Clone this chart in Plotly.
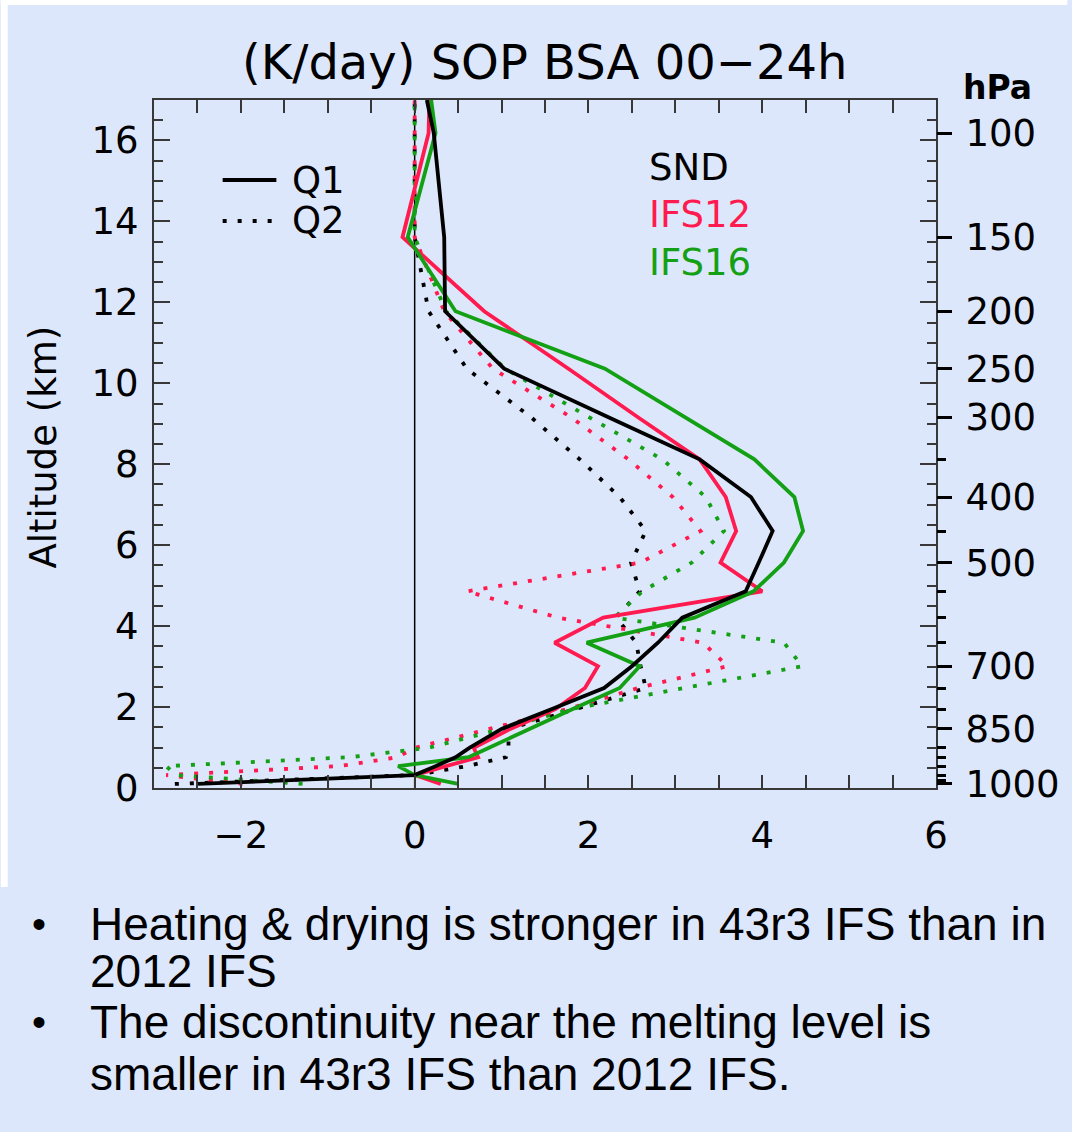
import plotly.graph_objects as go

# Model levels (altitude in km) shared by every profile
level_alt_km = [0.10, 0.32, 0.54, 0.76, 0.99, 1.46, 1.95, 2.47, 3.01, 3.59, 4.21,
                4.86, 5.57, 6.35, 7.19, 8.12, 9.16, 10.36, 11.78, 13.61, 16.18, 17.00]

# Apparent heat source Q1 (K/day)
snd_q1 = [-2.50, 0.00, 0.24, 0.47, 0.63, 1.00, 1.58, 2.18, 2.50, 2.80, 3.08,
          3.81, 3.96, 4.12, 3.87, 3.28, 2.23, 1.03, 0.35, 0.34, 0.22, 0.14]
ifs12_q1 = [0.30, 0.00, 0.36, 0.73, 0.68, 1.10, 1.62, 1.96, 2.11, 1.61, 2.17,
            4.00, 3.52, 3.70, 3.58, 3.28, 2.57, 1.77, 0.80, -0.14, 0.16, 0.17]
ifs16_q1 = [0.50, 0.00, -0.19, 0.62, 0.85, 1.32, 1.82, 2.36, 2.59, 1.98, 3.22,
            3.90, 4.25, 4.47, 4.37, 3.91, 3.11, 2.19, 0.47, -0.08, 0.24, 0.19]

# Apparent moisture sink Q2 (K/day)
snd_q2 = [-2.76, 0.00, 0.60, 1.05, 1.08, 1.08, 1.85, 2.66, 2.60, 2.55, 2.32,
          2.59, 2.49, 2.66, 2.36, 1.90, 1.34, 0.60, 0.16, 0.00, 0.00, 0.00]
ifs12_q2 = [-1.98, -2.86, -0.87, -0.20, 0.00, 0.88, 1.76, 2.57, 3.60, 3.32, 1.65,
            0.60, 2.60, 3.29, 2.97, 2.46, 1.80, 0.90, 0.34, 0.00, 0.00, 0.00]
ifs16_q2 = [-1.29, -2.75, -2.86, -0.75, 0.15, 1.00, 1.80, 3.08, 4.46, 4.25, 2.30,
            2.62, 3.19, 3.56, 3.35, 2.85, 2.00, 1.04, 0.36, 0.00, 0.00, 0.00]

# Pressure axis (hPa) on the right
pressure_labels = ["100", "150", "200", "250", "300", "400", "500", "700", "850", "1000"]
pressure_label_alt_km = [16.18, 13.61, 11.78, 10.36, 9.16, 7.19, 5.57, 3.01, 1.46, 0.11]
pressure_minor_alt_km = [8.12, 6.35, 4.86, 4.21, 3.59, 2.47, 1.95, 0.99, 0.76, 0.54, 0.32, 0.19]

x_ticks = [-2, 0, 2, 4, 6]
y_ticks = [0, 2, 4, 6, 8, 10, 12, 14, 16]

W, H = 1072, 1132
L, R, T, B = 154, 940, 100, 788


def px(xp):
    return (xp - L) / (R - L)


def py(yp):
    return (B - yp) / (B - T)


BG = "#dde7fb"
RED = "#ff1a4f"
GREEN = "#14a014"
AX = "#383838"
FONT = "DejaVu Sans"
DOT = "4px,11px"
LW = 3.8

fig = go.Figure()

series = [
    (snd_q2, "black", DOT),
    (ifs12_q2, RED, DOT),
    (ifs16_q2, GREEN, DOT),
    (ifs12_q1, RED, "solid"),
    (ifs16_q1, GREEN, "solid"),
    (snd_q1, "black", "solid"),
]
for vals, color, dash in series:
    fig.add_trace(go.Scatter(
        x=vals, y=level_alt_km, mode="lines",
        line=dict(color=color, width=LW, dash=dash),
        showlegend=False, hoverinfo="skip",
    ))

# carrier for the pressure axis
fig.add_trace(go.Scatter(x=[None], y=[None], yaxis="y2", showlegend=False,
                         hoverinfo="skip"))

# zero line
fig.add_shape(type="line", xref="x", yref="y", x0=0, x1=0, y0=0, y1=17,
              line=dict(color="black", width=1.5), layer="below")

# Q1 / Q2 key
fig.add_shape(type="line", xref="paper", yref="paper",
              x0=px(223), x1=px(277), y0=py(180), y1=py(180),
              line=dict(color="black", width=LW))
fig.add_shape(type="line", xref="paper", yref="paper",
              x0=px(223), x1=px(277), y0=py(221), y1=py(221),
              line=dict(color="black", width=LW, dash=DOT))

# white frame strips around the chart image
fig.add_shape(type="rect", xref="paper", yref="paper",
              x0=px(0), x1=px(7), y0=py(887), y1=py(0),
              line=dict(width=0), fillcolor="white", layer="below")
fig.add_shape(type="rect", xref="paper", yref="paper",
              x0=px(0), x1=px(W), y0=py(5), y1=py(0),
              line=dict(width=0), fillcolor="white", layer="below")


def note(text, x, y, size, color="black", family=FONT, xanchor="left",
         yanchor="middle", angle=0, weight="normal"):
    fig.add_annotation(text=text, xref="paper", yref="paper", x=px(x), y=py(y),
                       xanchor=xanchor, yanchor=yanchor, showarrow=False,
                       textangle=angle,
                       font=dict(family=family, size=size, color=color, weight=weight))


note("(K/day) SOP BSA 00\u221224h", 546, 62, 48, xanchor="center")
note("Altitude (km)", 42, 447, 37, xanchor="center", angle=-90)
note("hPa", 1002, 88, 33, xanchor="center", weight="bold")
note("Q1", 291, 180, 37)
note("Q2", 291, 220, 37)
note("SND", 650, 168, 37)
note("IFS12", 650, 215, 37, color=RED)
note("IFS16", 650, 262, 37, color=GREEN)

TXT = "Liberation Sans"
note("\u2022", 38, 924, 40, family=TXT, xanchor="center")
note("Heating &amp; drying is stronger in 43r3 IFS than in", 88, 924, 46, family=TXT)
note("2012 IFS", 88, 971, 46, family=TXT)
note("\u2022", 38, 1022, 40, family=TXT, xanchor="center")
note("The discontinuity near the melting level is", 88, 1022, 46, family=TXT)
note("smaller in 43r3 IFS than 2012 IFS.", 88, 1074, 46, family=TXT)

axis_common = dict(
    showgrid=False, zeroline=False, showline=True, linecolor=AX, linewidth=2,
    mirror="allticks", ticks="inside", tickcolor=AX, tickwidth=2,
    tickfont=dict(family=FONT, size=37, color="black"),
)

fig.update_layout(
    width=W, height=H, autosize=False,
    margin=dict(l=L, r=W - R, t=T, b=H - B, pad=0),
    paper_bgcolor=BG, plot_bgcolor=BG,
    showlegend=False,
    xaxis=dict(range=[-3, 6], tickmode="array", tickvals=x_ticks, ticklen=13,
               ticklabelstandoff=14,
               minor=dict(tickmode="linear", tick0=0, dtick=0.5, ticks="inside",
                          ticklen=7, tickwidth=1.5, tickcolor=AX),
               **axis_common),
    yaxis=dict(range=[0, 17], tickmode="array", tickvals=y_ticks, ticklen=16,
               ticklabelstandoff=6,
               minor=dict(tickmode="linear", tick0=0, dtick=0.5, ticks="inside",
                          ticklen=9, tickwidth=1.5, tickcolor=AX),
               **axis_common),
    yaxis2=dict(overlaying="y", side="right", range=[0, 17], showgrid=False,
                zeroline=False, showline=False, tickmode="array",
                tickvals=pressure_label_alt_km, ticktext=pressure_labels,
                ticks="outside", ticklen=15, tickwidth=3, tickcolor="black",
                ticklabelstandoff=6,
                tickfont=dict(family=FONT, size=37, color="black"),
                minor=dict(tickmode="array", tickvals=pressure_minor_alt_km,
                           ticks="outside", ticklen=9, tickwidth=3,
                           tickcolor="black")),
)

fig.write_html("out.html")
